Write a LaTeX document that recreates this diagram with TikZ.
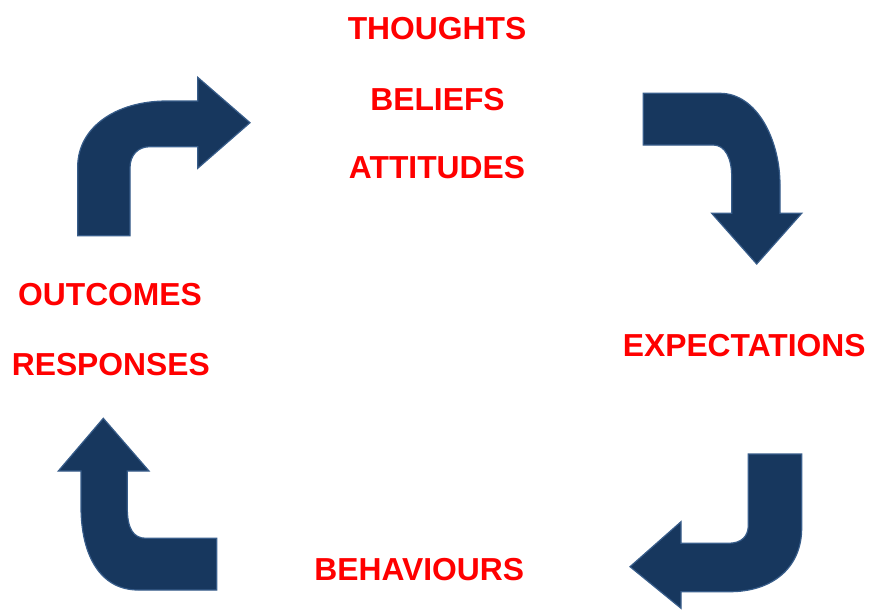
\documentclass[tikz,border=0pt]{standalone}
\usepackage{fontspec}
\setmainfont{Liberation Sans}
\definecolor{arrfill}{HTML}{17375E}
\definecolor{arredge}{HTML}{385D8A}
\definecolor{lbl}{HTML}{FF0000}
\begin{document}
\begin{tikzpicture}[x=1pt,y=-1pt,
  bent/.style={fill=arrfill,draw=arredge,line width=1.2pt,line join=miter},
  lab/.style={text=lbl,font=\fontsize{31.8}{32}\selectfont\bfseries,inner sep=0pt,anchor=base}]
\useasboundingbox (0,0) rectangle (869,610);
% labels
\node[lab] (thoughts) at (437,39.3) {THOUGHTS};
\node[lab] (beliefs) at (437.5,110) {BELIEFS};
\node[lab] (attitudes) at (437,178.3) {ATTITUDES};
\node[lab] (outcomes) at (110,305.7) {OUTCOMES};
\node[lab] (responses) at (110.8,375) {RESPONSES};
\node[lab] (expect) at (744.2,356.7) {EXPECTATIONS};
\node[lab] (behav) at (419.2,580) {BEHAVIOURS};
% arrow 1 (top-left)
\draw[bent] (77.7,235.7) -- (77.7,166.7)
  .. controls (77.7,128) and (115,101) .. (167,101)
  -- (197.7,101) -- (197.7,77.3) -- (250,122.7) -- (197.7,168.3) -- (197.7,146.7)
  -- (150,146.7) .. controls (138,146.7) and (130,155) .. (130,168)
  -- (130,235.7) -- cycle;
% arrow 2 (top-right)
\draw[bent] (643.3,93.3) -- (720,93.3)
  .. controls (757,93.3) and (780,140) .. (780,185)
  -- (780,213.3) -- (801.7,213.3) -- (756.7,264) -- (711.7,213.3) -- (731.7,213.3)
  -- (731.7,176.7) .. controls (731.7,158) and (725,145) .. (713.3,145)
  -- (643.3,145) -- cycle;
% arrow 3 (bottom-right)
\draw[bent] (748.3,454) -- (801.7,454) -- (801.7,528)
  .. controls (801.7,568) and (772,591.7) .. (730,591.7)
  -- (681,591.7) -- (681,608.3) -- (630,566.7) -- (681,521.7) -- (681,543.3)
  -- (728,543.3) .. controls (742,543.3) and (748.3,536) .. (748.3,525)
  -- cycle;
% arrow 4 (bottom-left)
\draw[bent] (103.3,418.3) -- (149,471) -- (127.3,471) -- (127.3,508)
  .. controls (127.3,528) and (133,538.3) .. (146,538.3)
  -- (216.7,538.3) -- (216.7,590) -- (138.3,590)
  .. controls (100,590) and (81,555) .. (81,506.7)
  -- (81,471) -- (58.3,471) -- cycle;
\end{tikzpicture}
\end{document}
